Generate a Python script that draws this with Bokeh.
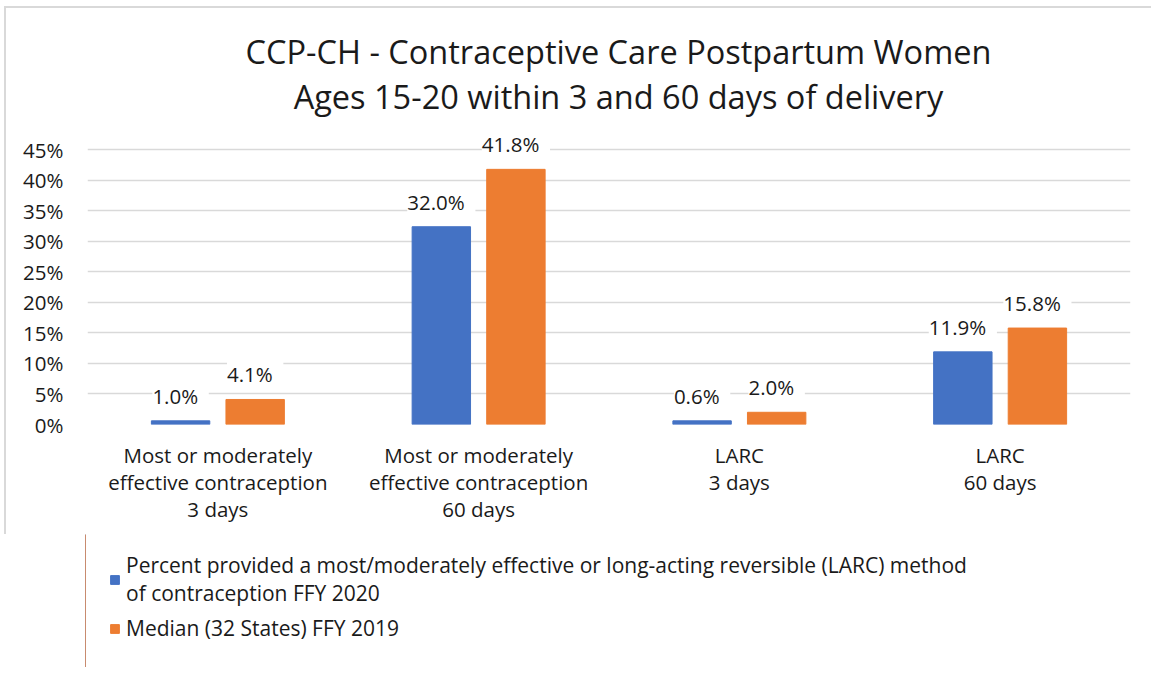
from bokeh.plotting import figure
from bokeh.layouts import column
from bokeh.models import (ColumnDataSource, FixedTicker, LabelSet, Legend, LegendItem,
                          Range1d)
from bokeh.core.properties import value
from bokeh.embed import file_html
from bokeh.resources import INLINE

categories = [
    "Most or moderately\neffective contraception\n3 days",
    "Most or moderately\neffective contraception\n60 days",
    "LARC\n3 days",
    "LARC\n60 days",
]
series_names = [
    "Percent provided a most/moderately effective or long-acting reversible (LARC) method\nof contraception FFY 2020",
    "Median (32 States) FFY 2019",
]
blue_vals = [0.6, 32.4, 0.6, 11.9]
orange_vals = [4.1, 41.8, 2.0, 15.8]
blue_labels = ["1.0%", "32.0%", "0.6%", "11.9%"]
orange_labels = ["4.1%", "41.8%", "2.0%", "15.8%"]
y_ticks = [0, 5, 10, 15, 20, 25, 30, 35, 40, 45]
title_lines = ["CCP-CH - Contraceptive Care Postpartum Women",
               "Ages 15-20 within 3 and 60 days of delivery"]

FONT = "Open Sans"
TXT = "#1a1a1a"
BLUE = "#4472C4"
ORANGE = "#ED7D31"
FS = "20.5px"
BORDER = "2px solid #D9D9D9"
FRAME_W = 1041
BL, BR = 81, 25

# ---------------- title strip ----------------
TH = 125
ts = figure(width=BL + FRAME_W + BR, height=TH, title=None,
            x_range=Range1d(0, FRAME_W), y_range=Range1d(0, TH),
            x_axis_location=None, y_axis_location=None,
            output_backend="svg", toolbar_location=None,
            min_border_left=BL, min_border_right=BR, min_border_top=0, min_border_bottom=0)
ts.grid.visible = False
ts.outline_line_color = None
ts.border_fill_color = "white"
ts.styles = {"border-top": BORDER, "border-left": BORDER,
             "margin-left": "4px", "margin-top": "6px"}
ts.text(x=[531, 531], y=[82, 37.5], text=title_lines, text_align="center",
        text_baseline="middle", text_font=value(FONT), text_font_size=value("32.5px"),
        text_color=TXT)

# ---------------- main chart ----------------
centers = [i + 0.5 for i in range(len(categories))]
off = 0.143
bw = 0.224

src_b = ColumnDataSource(dict(x=[c - off for c in centers], top=blue_vals,
                              lab=[f" {l} " for l in blue_labels]))
src_o = ColumnDataSource(dict(x=[c + off for c in centers], top=orange_vals,
                              lab=[f" {l} " for l in orange_labels]))

p = figure(frame_width=FRAME_W, frame_height=293, title=None,
           x_range=Range1d(0, 4), y_range=Range1d(0, 48),
           output_backend="svg", toolbar_location=None,
           min_border_left=BL, min_border_right=BR, min_border_top=0, min_border_bottom=110)
p.outline_line_color = None
p.background_fill_color = "white"
p.border_fill_color = "white"
p.styles = {"border-left": BORDER, "margin-left": "4px"}

rb = p.vbar(x="x", top="top", width=bw, source=src_b, color=BLUE)
ro = p.vbar(x="x", top="top", width=bw, source=src_o, color=ORANGE)

for src in (src_b, src_o):
    ls = LabelSet(x="x", y="top", text="lab", source=src, text_align="center",
                  text_baseline="middle", y_offset=25, text_font=value(FONT),
                  text_font_size=value(FS), text_color=TXT,
                  background_fill_color="white")
    p.add_layout(ls)

p.xgrid.grid_line_color = None
p.ygrid.ticker = FixedTicker(ticks=y_ticks)
p.ygrid.grid_line_color = "#D9D9D9"
p.ygrid.grid_line_width = 1.5

p.yaxis.ticker = FixedTicker(ticks=y_ticks)
p.yaxis.major_label_overrides = {t: f"{t}%" for t in y_ticks}
p.xaxis.ticker = FixedTicker(ticks=centers)
p.xaxis.major_label_overrides = {c: lab for c, lab in zip(centers, categories)}
for ax in (p.xaxis, p.yaxis):
    ax.axis_line_color = None
    ax.major_tick_line_color = None
    ax.minor_tick_line_color = None
    ax.major_label_text_font = FONT
    ax.major_label_text_font_size = FS
    ax.major_label_text_color = TXT
p.xaxis.major_label_text_line_height = 0.98
p.yaxis.major_label_standoff = 18
p.xaxis.major_label_standoff = 10

# ---------------- legend strip ----------------
lg = figure(width=BL + FRAME_W + BR, height=133, title=None,
            x_range=Range1d(0, 1), y_range=Range1d(0, 1),
            x_axis_location=None, y_axis_location=None,
            output_backend="svg", toolbar_location=None,
            min_border_left=BL, min_border_right=BR, min_border_top=0, min_border_bottom=0)
lg.grid.visible = False
lg.outline_line_color = None
lg.border_fill_color = "white"
lg.styles = {"margin-left": "4px"}
lb = lg.vbar(x="x", top="top", width=0.1, color=BLUE,
             source=ColumnDataSource(dict(x=[-5.0], top=[1.0])))
lo = lg.vbar(x="x", top="top", width=0.1, color=ORANGE,
             source=ColumnDataSource(dict(x=[-5.0], top=[1.0])))
legend = Legend(items=[LegendItem(label=series_names[0], renderers=[lb], index=0),
                       LegendItem(label=series_names[1], renderers=[lo], index=0)],
                location=(24, 25), orientation="vertical",
                label_text_font=FONT, label_text_font_size="21px", label_text_color=TXT,
                label_text_line_height=1.05,
                glyph_width=11, glyph_height=11, label_standoff=6, spacing=7,
                padding=0, margin=0, border_line_color=None, background_fill_alpha=0)
lg.add_layout(legend, "center")

layout = column(ts, p, lg, spacing=0)
open("out.html", "w").write(file_html(layout, INLINE))
